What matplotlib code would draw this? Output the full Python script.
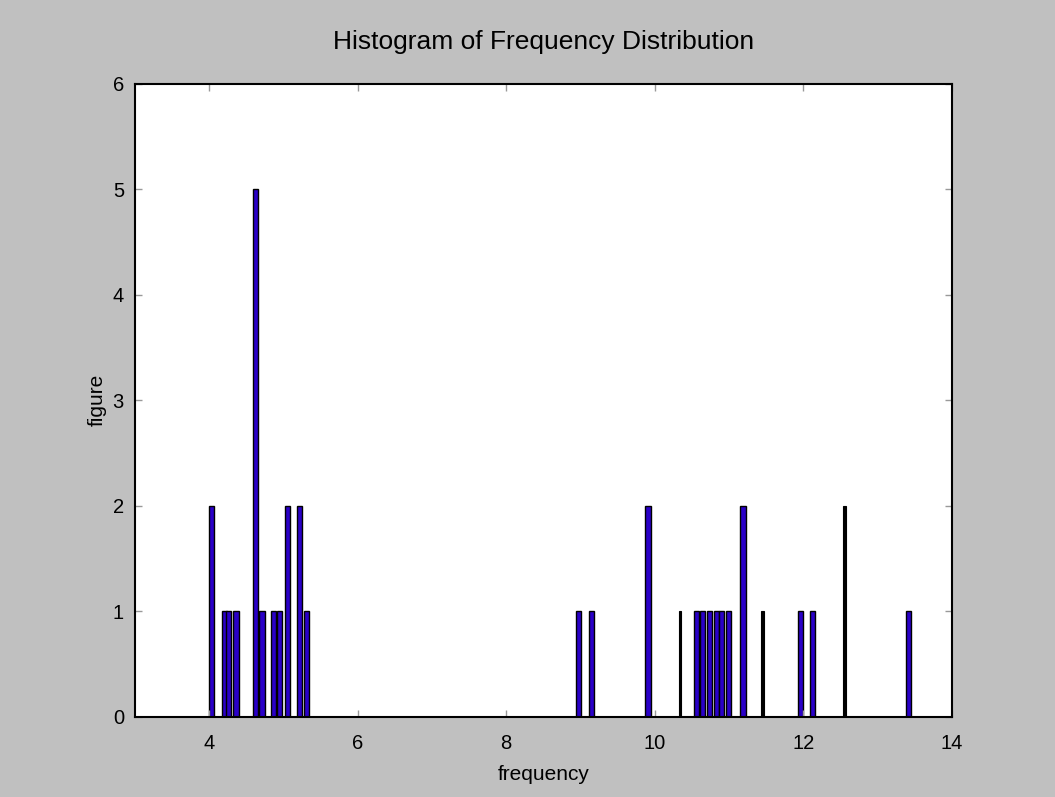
import matplotlib.pyplot as plt

# bar centres (frequency) and counts
centers = [4.03, 4.21, 4.26, 4.36, 4.62, 4.71, 4.87, 4.95, 5.05, 5.21, 5.31,
           8.98, 9.15, 9.91, 10.34, 10.56, 10.65, 10.74, 10.83, 10.90, 10.99,
           11.19, 11.45, 11.97, 12.12, 12.56, 13.42]
counts = [2, 1, 1, 1, 5, 1, 1, 1, 2, 2, 1,
          1, 1, 2, 1, 1, 1, 1, 1, 1, 1,
          2, 1, 1, 1, 2, 1]
xticks = [4, 6, 8, 10, 12, 14]
yticks = [0, 1, 2, 3, 4, 5, 6]

plt.rcParams['font.family'] = ['Liberation Sans', 'DejaVu Sans']
dpi = 100
fig = plt.figure(dpi=dpi, figsize=(1055 / dpi, 797 / dpi), facecolor='#c0c0c0')
ax = fig.add_axes([0.128, 0.1004, 0.774, 0.7948])

# a few bars render as thin black lines in the original
thin = {10.34, 11.45, 12.56}
for c, n in zip(centers, counts):
    if c in thin:
        ax.bar(c, n, width=0.035, color='black', edgecolor='black', linewidth=0.8)
    else:
        ax.bar(c, n, width=0.068, color='#2a00c8', edgecolor='black', linewidth=1.0)

ax.set_xlim(3, 14)
ax.set_ylim(0, 6)
ax.set_xticks(xticks)
ax.set_yticks(yticks)
ax.tick_params(direction='in', length=5, width=1, color='#999999',
               top=True, right=True, labelsize=14.5)
ax.tick_params(axis='x', pad=12)
ax.tick_params(axis='y', pad=8)
for s in ax.spines.values():
    s.set_linewidth(1.5)

ax.set_title('Histogram of Frequency Distribution', fontsize=19, pad=25)
ax.set_xlabel('frequency', fontsize=15, labelpad=9)
ax.set_ylabel('figure', fontsize=15, labelpad=4)

fig.savefig('out.png', dpi=dpi, facecolor=fig.get_facecolor())
